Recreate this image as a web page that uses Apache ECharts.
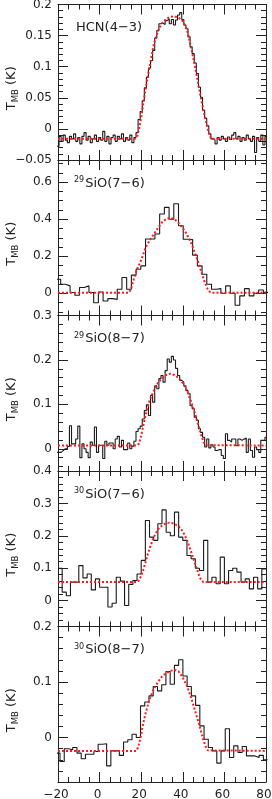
<!DOCTYPE html>
<html><head><meta charset="utf-8">
<script src="https://cdn.jsdelivr.net/npm/echarts@6/dist/echarts.min.js"></script>
<style>html,body{margin:0;padding:0;background:#fff}#c{width:272px;height:799px}</style>
</head><body><div id="c"></div>
<script>
// ---------- data ----------
const velTicks = [-20, 0, 20, 40, 60, 80];

// HCN(4-3): 1 km/s channels, first channel edge -20.5
const hcnV0 = -20.5, hcnDv = 1;
const hcnT = [-0.028,-0.012,-0.020,-0.010,-0.018,-0.022,-0.012,-0.016,-0.008,-0.020,
 -0.014,-0.024,-0.012,-0.006,-0.018,-0.012,-0.022,-0.016,-0.010,-0.020,
 -0.014,-0.018,-0.004,-0.020,-0.012,-0.024,-0.014,-0.010,-0.020,-0.012,
 -0.016,-0.008,-0.020,-0.014,-0.018,-0.010,-0.022,-0.014,-0.006,0.015,
 0.028,0.045,0.066,0.083,0.098,0.110,0.126,0.146,0.158,0.169,
 0.170,0.168,0.174,0.177,0.169,0.176,0.167,0.175,0.183,0.187,
 0.176,0.167,0.161,0.148,0.132,0.121,0.106,0.089,0.067,0.051,
 0.030,0.017,0.005,-0.008,-0.016,-0.018,-0.024,-0.014,-0.018,-0.012,
 -0.016,-0.020,-0.013,-0.017,-0.010,-0.006,-0.016,-0.012,-0.020,-0.014,
 -0.018,-0.010,-0.016,-0.020,-0.012,-0.038,-0.014,-0.020,-0.010,-0.026,-0.012];
const hcnFitV = [-20,17,18,19,20,22,24,26,28,30,32,34,36,38,40,42,44,46,48,50,52,53,54,80];
const hcnFitT = [-0.016,-0.016,-0.013,0.0,0.019,0.062,0.1,0.135,0.157,0.17,0.177,0.18,0.181,0.179,0.173,0.16,0.13,0.098,0.062,0.028,0.0,-0.012,-0.016,-0.016];

// 29SiO(7-6)
const sio2976V0 = -20.98, sio2976Dv = 2.266;
const sio2976T = [0.076,0.049,0.040,0.004,-0.011,0.031,0.040,0.004,-0.051,0.007,
 -0.042,-0.029,-0.033,0.022,0.085,0.022,0.098,0.130,0.148,0.293,
 0.293,0.320,0.428,0.464,0.400,0.484,0.365,0.292,0.290,0.206,
 0.148,0.103,0.049,0.022,0.025,0.000,0.040,0.000,-0.065,-0.014,
 0.025,-0.014,0.000,0.018,0.005];
const sio2976FitV = [-20,14,15,16,17,18,19,20,21,22,24,26,28,30,32,34,36,38,40,42,44,46,48,50,51,52,53,54,80];
const sio2976FitT = [0.003,0.003,0.02,0.06,0.098,0.13,0.155,0.18,0.21,0.245,0.285,0.318,0.352,0.383,0.401,0.408,0.401,0.38,0.352,0.318,0.272,0.212,0.148,0.076,0.048,0.022,0.008,0.003,0.003];

// 29SiO(8-7)
const sio2987V0 = -20.5, sio2987Dv = 1;
const sio2987T = [-0.008,-0.008,-0.004,0.0,0.0,0.005,0.052,0.011,0.011,0.022,
 0.051,-0.020,0.011,0.0,-0.008,-0.020,0.015,0.008,0.049,-0.008,
 0.008,0.008,-0.022,0.017,0.008,0.013,0.013,0.0,0.022,0.028,
 0.004,0.019,-0.002,-0.002,0.013,0.0,0.006,0.017,0.039,0.045,
 0.051,0.067,0.086,0.099,0.075,0.120,0.105,0.142,0.135,0.158,
 0.165,0.150,0.176,0.202,0.195,0.208,0.200,0.181,0.165,0.154,
 0.150,0.142,0.131,0.124,0.097,0.090,0.071,0.064,0.045,0.037,
 0.026,0.004,0.022,0.002,0.009,0.004,-0.004,-0.002,-0.002,-0.015,
 -0.022,0.034,0.019,0.015,0.022,0.022,0.007,0.022,0.019,0.022,
 0.024,-0.008,0.022,-0.004,-0.019,0.004,-0.002,-0.008,0.019,0.019,0.026];
const sio2987FitV = [-20,18,19,20,21,22,24,26,28,30,32,34,36,38,40,42,44,46,48,49,50,51,80];
const sio2987FitT = [0.0075,0.0075,0.012,0.03,0.052,0.074,0.109,0.13,0.148,0.159,0.166,0.169,0.166,0.159,0.148,0.131,0.106,0.078,0.045,0.028,0.015,0.008,0.0075];

// 30SiO(7-6)
const sio3076V0 = -20, sio3076Dv = 2.0;
const sio3076T = [0.100,0.026,0.015,0.057,0.057,0.108,0.070,0.082,0.033,0.067,
 0.041,0.041,-0.020,-0.008,0.072,0.060,-0.015,0.050,0.062,0.082,
 0.124,0.247,0.196,0.186,0.237,0.280,0.211,0.200,0.273,0.196,
 0.186,0.139,0.129,0.100,0.093,0.186,0.057,0.072,0.052,0.134,
 0.052,0.093,0.100,0.088,0.057,0.067,0.036,0.072,0.036,0.098];
const sio3076FitV = [-20,18,19,20,21,22,23,24,26,28,30,32,34,36,38,40,42,44,46,48,49,50,80];
const sio3076FitT = [0.057,0.057,0.063,0.077,0.095,0.117,0.14,0.16,0.195,0.219,0.232,0.239,0.241,0.237,0.229,0.214,0.187,0.151,0.112,0.074,0.062,0.057,0.057];

// 30SiO(8-7)
const sio3087V0 = -21.07, sio3087Dv = 2.037;
const sio3087T = [-0.028,-0.043,-0.020,-0.022,-0.018,-0.028,-0.038,-0.030,-0.030,-0.025,
 -0.012,-0.011,-0.051,-0.024,-0.024,-0.032,-0.008,-0.004,0.006,0.000,
 0.057,0.064,0.075,0.092,0.084,0.095,0.119,0.096,0.130,0.140,
 0.111,0.092,0.075,0.058,0.021,-0.003,-0.018,-0.024,-0.046,-0.024,
 0.016,-0.036,-0.015,-0.027,-0.016,-0.033,-0.033,-0.036,-0.032,-0.040];
const sio3087FitV = [-20,17.5,18.5,19,20,21,22,24,26,28,30,32,34,36,38,40,42,44,46,48,50,51,52,80];
const sio3087FitT = [-0.024,-0.024,-0.018,-0.01,0.006,0.026,0.042,0.069,0.087,0.1,0.11,0.116,0.12,0.122,0.119,0.108,0.093,0.072,0.047,0.022,-0.006,-0.016,-0.023,-0.024];

// axis ranges / tick labels
const p1Range = [-0.05, 0.2],  p1Labels = [-0.05, 0, 0.05, 0.1, 0.15, 0.2], p1Minor = 0.01;
const p2Range = [-0.12, 0.72], p2Labels = [0, 0.2, 0.4, 0.6], p2Minor = 0.05;
const p3Range = [-0.05, 0.3],  p3Labels = [0, 0.1, 0.2, 0.3], p3Minor = 0.02;
const p4Range = [-0.08, 0.4],  p4Labels = [0, 0.1, 0.2, 0.3, 0.4], p4Minor = 0.02;
const p5Range = [-0.08, 0.2],  p5Labels = [0, 0.1, 0.2], p5Minor = 0.02;

const titles = ['{m|HCN(4−3)}', '{sup|29}{m|SiO(7−6)}', '{sup|29}{m|SiO(8−7)}', '{sup|30}{m|SiO(7−6)}', '{sup|30}{m|SiO(8−7)}'];

// ---------- build ----------
const FONT = 'DejaVu Sans';
const INK = '#222';
function hist(v0, dv, vals) {
  const d = vals.map((t, i) => [v0 + i * dv, t]);
  d.push([v0 + vals.length * dv, vals[vals.length - 1]]);
  return d;
}
function pairs(v, t) { return v.map((x, i) => [x, t[i]]); }
function minorList(r, step) {
  const out = [];
  const k0 = Math.ceil(r[0] / step - 1e-9), k1 = Math.floor(r[1] / step + 1e-9);
  for (let k = k0; k <= k1; k++) out.push(+(k * step).toFixed(4));
  return out;
}
function fmt(v) { return v < 0 ? '−' + String(Math.abs(v)) : String(v); }

const panels = [
  {range: p1Range, labels: p1Labels, minor: p1Minor, hist: hist(hcnV0, hcnDv, hcnT), fit: pairs(hcnFitV, hcnFitT)},
  {range: p2Range, labels: p2Labels, minor: p2Minor, hist: hist(sio2976V0, sio2976Dv, sio2976T), fit: pairs(sio2976FitV, sio2976FitT)},
  {range: p3Range, labels: p3Labels, minor: p3Minor, hist: hist(sio2987V0, sio2987Dv, sio2987T), fit: pairs(sio2987FitV, sio2987FitT)},
  {range: p4Range, labels: p4Labels, minor: p4Minor, hist: hist(sio3076V0, sio3076Dv, sio3076T), fit: pairs(sio3076FitV, sio3076FitT)},
  {range: p5Range, labels: p5Labels, minor: p5Minor, hist: hist(sio3087V0, sio3087Dv, sio3087T), fit: pairs(sio3087FitV, sio3087FitT)}
];

const TOP0 = 4.5, PH = 155.5, LEFT = 58, RIGHT = 6;
const grid = [], xAxis = [], yAxis = [], series = [], title = [];
const lineSt = {color: INK, width: 1};

panels.forEach((p, g) => {
  const top = TOP0 + g * PH;
  grid.push({left: LEFT, right: RIGHT, top: top, height: PH, containLabel: false, outerBoundsMode: 'none'});
  ['bottom', 'top'].forEach(pos => {
    xAxis.push({
      gridIndex: g, type: 'value', position: pos, min: -20, max: 80, interval: 20,
      axisLine: {show: true, onZero: false, lineStyle: lineSt},
      axisTick: {show: true, inside: true, length: 10, lineStyle: lineSt},
      minorTick: {show: true, splitNumber: 4, length: 5, lineStyle: lineSt},
      splitLine: {show: false}, minorSplitLine: {show: false},
      axisLabel: {show: pos === 'bottom' && g === 4, color: INK, fontFamily: FONT, fontSize: 12,
        margin: 7, padding: [0, 4, 0, 0], formatter: fmt, hideOverlap: false}
    });
  });
  const minors = minorList(p.range, p.minor);
  ['left', 'right'].forEach(pos => {
    yAxis.push({
      gridIndex: g, type: 'value', position: pos, min: p.range[0], max: p.range[1],
      axisLine: {show: true, onZero: false, lineStyle: lineSt},
      axisTick: {show: true, inside: true, length: 10, customValues: p.labels, lineStyle: lineSt},
      splitLine: {show: false},
      axisLabel: {show: pos === 'left', customValues: p.labels, color: INK, fontFamily: FONT, fontSize: 12,
        margin: 6, formatter: fmt, hideOverlap: false},
      name: pos === 'left' ? '{t|T}{s|MB}{t| (K)}' : '',
      nameLocation: 'middle', nameGap: 38, nameMoveOverlap: false,
      nameTextStyle: {color: INK, fontFamily: FONT, padding: [0, 12, 0, 0],
        rich: {t: {fontSize: 13, fontFamily: FONT, color: INK, lineHeight: 16},
               s: {fontSize: 8.5, fontFamily: FONT, color: INK, lineHeight: 8, verticalAlign: 'bottom'}}}
    });
    yAxis.push({
      gridIndex: g, type: 'value', position: pos, min: p.range[0], max: p.range[1],
      axisLine: {show: false, onZero: false},
      axisTick: {show: true, inside: true, length: 5, customValues: minors, lineStyle: lineSt},
      splitLine: {show: false},
      axisLabel: {show: false}
    });
  });
  series.push({
    type: 'line', xAxisIndex: 2 * g, yAxisIndex: 4 * g, data: p.hist, step: 'end',
    symbol: 'none', clip: true, lineStyle: {color: '#1a1a1a', width: 1.1}, z: 2, animation: false
  });
  series.push({
    type: 'line', xAxisIndex: 2 * g, yAxisIndex: 4 * g, data: p.fit,
    symbol: 'none', clip: true, lineStyle: {color: '#ff1a1a', width: 2, type: [2, 2]}, z: 3, animation: false
  });
  title.push({
    text: titles[g], left: g === 0 ? 76 : 74, top: top + 16, padding: 0,
    textStyle: {fontFamily: FONT, fontWeight: 'normal', fontSize: 13, color: INK,
      rich: {m: {fontSize: 13, fontFamily: FONT, color: INK, lineHeight: 15},
             sup: {fontSize: 8, fontFamily: FONT, color: INK, lineHeight: 8, verticalAlign: 'top', padding: [0, 1, 0, 0]}}}
  });
});

const chart = echarts.init(document.getElementById('c'), null, {renderer: 'canvas'});
chart.setOption({
  animation: false, backgroundColor: '#fff',
  title: title, grid: grid, xAxis: xAxis, yAxis: yAxis, series: series
});
</script></body></html>
